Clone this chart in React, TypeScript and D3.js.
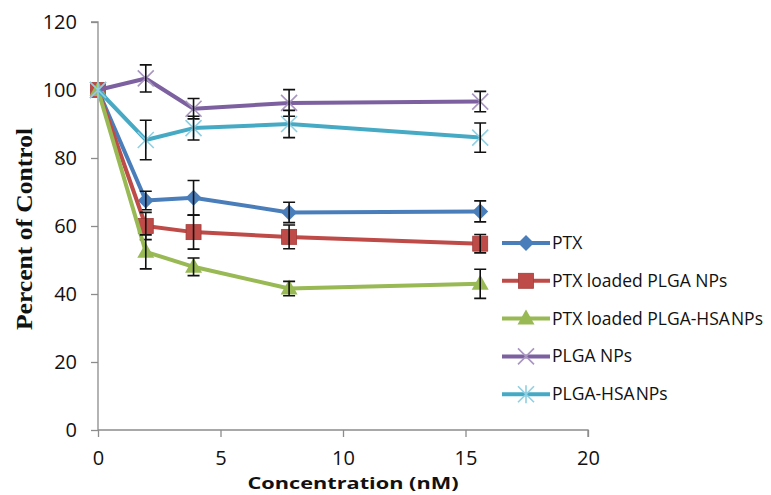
import React, { useEffect, useRef } from 'react';
import * as d3 from 'd3';

const concentrations = [0, 1.95, 3.9, 7.8, 15.6];
const seriesNames = ['PTX', 'PTX loaded PLGA NPs', 'PTX loaded PLGA-HSA NPs', 'PLGA NPs', 'PLGA-HSA NPs'];
const ptx = [100, 67.5, 68.3, 64.0, 64.3];
const ptxErr = [0, 2.7, 5.1, 3, 3.1];
const ptxPlga = [100, 60, 58.2, 56.8, 54.8];
const ptxPlgaErr = [0, 4, 5, 3.5, 2.7];
const ptxHsa = [100, 52.4, 48, 41.6, 43];
const ptxHsaErr = [0, 5, 2.6, 2.1, 4.3];
const plga = [100, 103.4, 94.5, 96.2, 96.6];
const plgaErr = [0, 4, 3, 3.9, 3];
const plgaHsa = [100, 85.3, 88.8, 90, 86];
const plgaHsaErr = [0, 5.8, 3.5, 4, 4.3];
const xTicks = [0, 5, 10, 15, 20];
const yTicks = [0, 20, 40, 60, 80, 100, 120];

const colors = ['#4a7ebb', '#be4b48', '#98b954', '#7d60a0', '#46aac5'];
const markers = ['diamond', 'square', 'triangle', 'x', 'star'];

const W = 771, H = 495;
const sans = '"Open Sans", Lato, sans-serif';

function drawMarker(g: any, kind: string, x: number, y: number, color: string) {
  if (kind === 'diamond') {
    g.append('path').attr('d', `M${x},${y - 8}L${x + 8},${y}L${x},${y + 8}L${x - 8},${y}Z`).attr('fill', color);
  } else if (kind === 'square') {
    g.append('rect').attr('x', x - 7.5).attr('y', y - 7.5).attr('width', 15).attr('height', 15)
      .attr('fill', color).attr('stroke', '#a33d3a').attr('stroke-width', 0.8);
  } else if (kind === 'triangle') {
    g.append('path').attr('d', `M${x},${y - 9}L${x + 8.5},${y + 6}L${x - 8.5},${y + 6}Z`).attr('fill', color);
  } else if (kind === 'x') {
    g.append('path').attr('d', `M${x - 8},${y - 8}L${x + 8},${y + 8}M${x - 8},${y + 8}L${x + 8},${y - 8}`)
      .attr('stroke', '#a896c0').attr('stroke-width', 1.6);
  } else {
    g.append('path').attr('d', `M${x - 8},${y - 8}L${x + 8},${y + 8}M${x - 8},${y + 8}L${x + 8},${y - 8}M${x},${y - 9}L${x},${y + 9}`)
      .attr('stroke', '#8fd0e2').attr('stroke-width', 1.6);
  }
}

export default function App() {
  const ref = useRef<SVGSVGElement>(null);

  useEffect(() => {
    const svg = d3.select(ref.current);
    svg.selectAll('*').remove();

    const x = d3.scaleLinear().domain([0, 20]).range([98, 588]);
    const y = d3.scaleLinear().domain([0, 120]).range([430, 22]);

    const values = [ptx, ptxPlga, ptxHsa, plga, plgaHsa];
    const errors = [ptxErr, ptxPlgaErr, ptxHsaErr, plgaErr, plgaHsaErr];

    // axes
    const axisColor = '#8c8c8c';
    const yAxis = svg.append('g').attr('transform', 'translate(98,0)')
      .call(d3.axisLeft(y).tickValues(yTicks).tickSize(7).tickPadding(14).tickFormat(d3.format('d')));
    const xAxis = svg.append('g').attr('transform', 'translate(0,430)')
      .call(d3.axisBottom(x).tickValues(xTicks).tickSize(7).tickPadding(14).tickFormat(d3.format('d')));
    [xAxis, yAxis].forEach((a) => {
      a.select('.domain').attr('stroke', axisColor).attr('stroke-width', 1.3);
      a.selectAll('line').attr('stroke', axisColor).attr('stroke-width', 1.3);
      a.selectAll('text').attr('font-family', sans).attr('font-size', 20).attr('fill', '#111');
    });
    yAxis.select('.domain').attr('d', `M-7,${y(120)}H0V${y(0)}`);
    xAxis.select('.domain').attr('d', `M${x(0)},0H${x(20)}V7`);

    const line = d3.line<number>().x((d, i) => x(concentrations[i])).y((d) => y(d));

    values.forEach((vals, si) => {
      const g = svg.append('g');
      g.append('path').attr('d', line(vals)).attr('fill', 'none')
        .attr('stroke', colors[si]).attr('stroke-width', 4).attr('stroke-linejoin', 'round');
      vals.forEach((v, i) => {
        drawMarker(g, markers[si], x(concentrations[i]), y(v), colors[si]);
      });
      vals.forEach((v, i) => {
        const e = errors[si][i];
        if (!e) return;
        const cx = x(concentrations[i]);
        g.append('path')
          .attr('d', `M${cx},${y(v + e)}V${y(v - e)}M${cx - 6},${y(v + e)}H${cx + 6}M${cx - 6},${y(v - e)}H${cx + 6}`)
          .attr('stroke', '#111').attr('stroke-width', 1.6).attr('fill', 'none');
      });
    });

    // legend
    const leg = svg.append('g');
    seriesNames.forEach((name, i) => {
      const ly = 243 + i * 37.8;
      leg.append('line').attr('x1', 502).attr('x2', 550).attr('y1', ly).attr('y2', ly)
        .attr('stroke', colors[i]).attr('stroke-width', 4);
      drawMarker(leg, markers[i], 526, ly, colors[i]);
      const t = leg.append('text').attr('x', 552).attr('y', ly + 6).attr('font-family', sans)
        .attr('font-size', 17.5).attr('fill', '#111');
      if (name.endsWith('HSA NPs')) {
        t.append('tspan').text(name.replace(' NPs', ''));
        t.append('tspan').attr('dx', 1).text('NPs');
      } else {
        t.text(name);
      }
    });

    svg.append('text').attr('x', 353).attr('y', 489).attr('text-anchor', 'middle')
      .attr('font-family', sans).attr('font-weight', 'bold').attr('font-size', 16).attr('fill', '#111')
      .attr('textLength', 211).attr('lengthAdjust', 'spacingAndGlyphs')
      .text('Concentration  (nM)');
    svg.append('text').attr('transform', 'translate(32,229) rotate(-90)').attr('text-anchor', 'middle')
      .attr('font-family', '"Liberation Serif", serif').attr('font-weight', 'bold').attr('font-size', 24).attr('fill', '#111')
      .attr('textLength', 202).attr('lengthAdjust', 'spacingAndGlyphs')
      .text('Percent  of Control');
  }, []);

  return (
    <svg ref={ref} width={W} height={H} style={{ position: 'absolute', left: 0, top: 0, background: '#fff' }} />
  );
}
